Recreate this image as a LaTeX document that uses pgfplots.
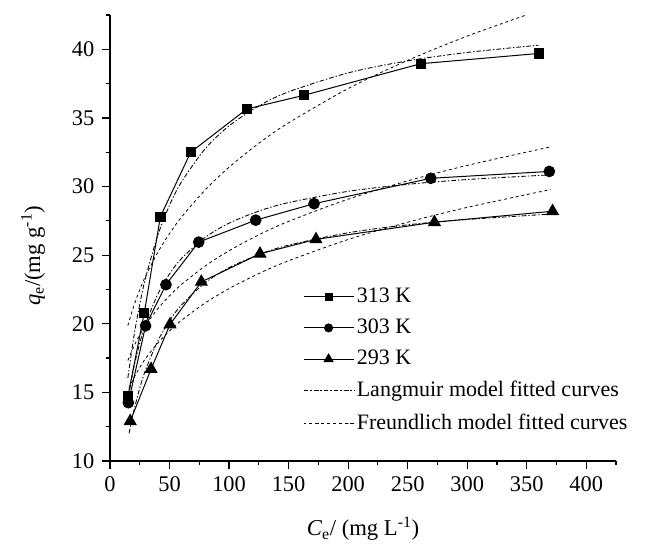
\documentclass[border=0pt]{standalone}
\usepackage{fontspec}
\setmainfont{Liberation Serif}
\usepackage{pgfplots}
\pgfplotsset{compat=1.18}
\begin{document}
\fontsize{16.5}{20}\selectfont
\begin{tikzpicture}
\useasboundingbox (-82.5pt,-68.25pt) rectangle (402pt,345.75pt);
\begin{axis}[
  at={(0,0)}, anchor=south west,
  scale only axis, width=379.5pt, height=334.5pt,
  xmin=0, xmax=425, ymin=10, ymax=42.5,
  axis x line*=bottom, axis y line*=left,
  xtick={0,50,...,400}, ytick={10,15,...,40},
  minor x tick num=1, minor y tick num=1,
  extra x ticks={425}, extra x tick labels={}, extra x tick style={major tick length=3pt},
  extra y ticks={42.5}, extra y tick labels={}, extra y tick style={major tick length=3pt},
  tick align=outside,
  major tick length=6pt, minor tick length=3pt,
  every tick/.style={black, line width=0.9pt},
  axis line style={line width=1.1pt},
  /pgf/number format/assume math mode=true,
  tick label style={font=\fontsize{16.8}{20}\selectfont},
  xlabel={\textit{C}\textsubscript{e}/ (mg L\textsuperscript{-1})},
  ylabel={\textit{q}\textsubscript{e}/(mg g\textsuperscript{-1})},
  every axis x label/.style={at={(axis description cs:0.5,-0.152)}, anchor=center},
  every axis y label/.style={at={(axis description cs:-0.152,0.46)}, rotate=90, anchor=center},
  label style={font=\fontsize{17}{20}\selectfont},
  legend style={draw=none, fill=none, at={(0.381,0.395)}, anchor=north west,
    font=\fontsize{16.5}{20}\selectfont, row sep=6pt, inner sep=0pt},
  legend cell align=left,
  legend image code/.code={\draw[mark repeat=2,mark phase=2] plot coordinates {(0cm,0cm)(0.66cm,0cm)(1.32cm,0cm)};},
  legend image post style={mark options={scale=0.75, solid}},
  clip=false,
]
% experimental data
\addplot[black, line width=0.75pt, mark=square*, mark size=3.5pt, mark options={solid}] coordinates {
(15.1,14.75) (28.8,20.8) (42.3,27.8) (67.8,32.5) (114.9,35.65) (163,36.65) (261,38.95) (360.5,39.7)};
\addlegendentry{313 K}
\addplot[black, line width=0.75pt, mark=*, mark size=4pt, mark options={solid}] coordinates {
(15.4,14.25) (29.9,19.85) (47,22.85) (74.5,25.95) (122.4,27.55) (171.4,28.75) (269.4,30.6) (369,31.1)};
\addlegendentry{303 K}
\addplot[black, line width=0.75pt, mark=triangle*, mark size=5pt, mark options={solid}] coordinates {
(17,12.9) (34.5,16.7) (50.4,19.95) (76.7,23.05) (126,25.1) (173,26.15) (272.5,27.4) (371.7,28.2)};
\addlegendentry{293 K}
% Langmuir fitted curves
\addplot[black, line width=0.65pt, smooth, dash pattern=on 3.5pt off 1.5pt on 1pt off 1.5pt] coordinates {
(15,16.05) (20,19.04) (25,21.43) (30,23.39) (40,26.41) (50,28.63) (60,30.33) (80,32.76) (100,34.42) (125,35.87) (150,36.90) (200,38.28) (250,39.16) (300,39.77) (360,40.30)};
\addlegendentry{Langmuir model fitted curves}
\addplot[black, line width=0.65pt, smooth, dash pattern=on 3.5pt off 1.5pt on 1pt off 1.5pt, forget plot] coordinates {
(15,14.48) (20,16.81) (25,18.60) (30,20.02) (40,22.13) (50,23.63) (60,24.75) (80,26.30) (100,27.33) (125,28.21) (150,28.83) (200,29.65) (250,30.16) (300,30.51) (370,30.85)};
\addplot[black, line width=0.65pt, smooth, dash pattern=on 3.5pt off 1.5pt on 1pt off 1.5pt, forget plot] coordinates {
(16,12.02) (20,13.65) (25,15.31) (30,16.66) (40,18.72) (50,20.22) (60,21.36) (80,22.99) (100,24.09) (125,25.04) (150,25.73) (200,26.63) (250,27.21) (300,27.60) (372,28.00)};
% Freundlich fitted curves
\addplot[black, line width=0.6pt, smooth, dash pattern=on 2.2pt off 2.2pt] coordinates {
(15,19.87) (20,21.30) (25,22.48) (30,23.49) (40,25.18) (50,26.57) (60,27.77) (80,29.76) (100,31.41) (125,33.15) (150,34.64) (200,37.14) (250,39.19) (300,40.96) (350,42.51)};
\addlegendentry{Freundlich model fitted curves}
\addplot[black, line width=0.6pt, smooth, dash pattern=on 2.2pt off 2.2pt, forget plot] coordinates {
(15,17.33) (20,18.35) (25,19.19) (30,19.90) (40,21.08) (50,22.04) (60,22.86) (80,24.21) (100,25.32) (125,26.48) (150,27.46) (200,29.08) (250,30.41) (300,31.54) (370,32.89)};
\addplot[black, line width=0.6pt, smooth, dash pattern=on 2.2pt off 2.2pt, forget plot] coordinates {
(16,15.30) (20,16.04) (25,16.82) (30,17.48) (40,18.58) (50,19.48) (60,20.25) (80,21.52) (100,22.56) (125,23.66) (150,24.59) (200,26.14) (250,27.40) (300,28.48) (370,29.78)};
\end{axis}
\end{tikzpicture}
\end{document}
